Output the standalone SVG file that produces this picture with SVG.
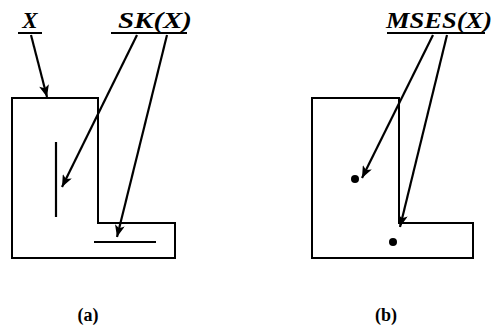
<svg xmlns="http://www.w3.org/2000/svg" width="493" height="330" viewBox="0 0 493 330">
<defs>
<style>
.shape{fill:none;stroke:#000;stroke-width:2;stroke-linejoin:miter}
.seg{stroke:#000;stroke-width:2.2;fill:none}
.conn{stroke:#000;stroke-width:2.2;fill:none}
.lbl{font-family:"Liberation Serif",serif;font-style:italic;font-weight:bold;font-size:23px;fill:#000}
.cap{font-family:"Liberation Serif",serif;font-weight:bold;font-size:18px;fill:#000}
.ul{stroke:#000;stroke-width:2}
</style>
<marker id="ah" viewBox="0 0 12 10" refX="12" refY="5" markerWidth="13" markerHeight="10" markerUnits="userSpaceOnUse" orient="auto">
<path d="M0,0 L12,5 L0,10 L3,5 Z" fill="#000"/>
</marker>
</defs>
<rect width="493" height="330" fill="#fff"/>
<g id="shapeA">
<path class="shape" d="M12,98 H98 V223 H175 V258 H12 Z"/>
<line class="seg" x1="56" y1="142" x2="56" y2="217"/>
<line class="seg" x1="94" y1="242" x2="156" y2="242"/>
</g>
<g id="labelX">
<text class="lbl" x="30" y="28" text-anchor="middle">X</text>
<line class="ul" x1="18" y1="33" x2="42" y2="33"/>
</g>
<g id="labelSK">
<text class="lbl" x="118" y="28" textLength="74" lengthAdjust="spacingAndGlyphs">SK(X)</text>
<line class="ul" x1="111" y1="33" x2="187" y2="33"/>
</g>
<g id="shapeB">
<path class="shape" d="M312,98 H399 V223 H473 V258 H312 Z"/>
<circle cx="355" cy="179" r="4" fill="#000"/>
<circle cx="393" cy="242" r="4" fill="#000"/>
</g>
<g id="labelMSES">
<text class="lbl" x="386" y="28" textLength="106" lengthAdjust="spacingAndGlyphs">MSES(X)</text>
<line class="ul" x1="387" y1="33" x2="485" y2="33"/>
</g>
<g id="captions">
<text class="cap" x="88" y="321" text-anchor="middle">(a)</text>
<text class="cap" x="386" y="321" text-anchor="middle">(b)</text>
</g>
<g id="connectors">
<line class="conn" x1="31" y1="35" x2="47" y2="97" marker-end="url(#ah)"/>
<line class="conn" x1="137" y1="35" x2="62" y2="187" marker-end="url(#ah)"/>
<line class="conn" x1="167" y1="35" x2="117" y2="237" marker-end="url(#ah)"/>
<line class="conn" x1="433" y1="35" x2="362" y2="178" marker-end="url(#ah)"/>
<line class="conn" x1="447" y1="35" x2="400" y2="227" marker-end="url(#ah)"/>
</g>
</svg>
